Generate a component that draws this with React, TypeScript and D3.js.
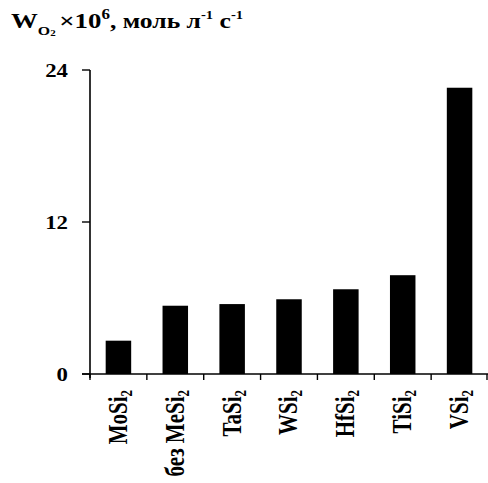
import React from "react";
import * as d3 from "d3";

const categories = ["MoSi", "без MeSi", "TaSi", "WSi", "HfSi", "TiSi", "VSi"];
const values = [2.63, 5.39, 5.52, 5.9, 6.69, 7.8, 22.6];
const yTicks = [0, 12, 24];

const W = 488;
const H = 483;
const FONT = "'Liberation Serif', 'Times New Roman', serif";

export default function App() {
  const left = 90;
  const right = 488;
  const y0 = 374;
  const yTop = 70;

  const y = d3.scaleLinear().domain([0, 24]).range([y0, yTop]);
  const xOuter = d3.scaleBand<string>().domain(categories).range([left, right]).padding(0);
  const step = xOuter.step();
  const barW = 25.5;

  const boundaries = d3.range(categories.length + 1).map((i) => left + i * step);

  return (
    <svg
      width={W}
      height={H}
      style={{ position: "absolute", left: 0, top: 0, background: "#fff" }}
      fontFamily={FONT}
      fontWeight="bold"
    >
      <rect x={0} y={0} width={W} height={H} fill="#fff" />
      {/* title */}
      <text transform="translate(11,28) scale(1.22,1)" x={0} y={0} fontSize={22} fill="#000">
        <tspan>W</tspan>
        <tspan fontSize={13} dy={7}>O</tspan>
        <tspan fontSize={9} dy={1}>2</tspan>
        <tspan fontSize={22} dy={-8} dx={3}>×10</tspan>
        <tspan fontSize={14} dy={-9}>6</tspan>
        <tspan fontSize={21} dy={9}>, моль л</tspan>
        <tspan fontSize={12} dy={-9}>-1</tspan>
        <tspan fontSize={21} dy={9}> с</tspan>
        <tspan fontSize={12} dy={-9}>-1</tspan>
      </text>

      {/* bars */}
      {categories.map((c, i) => {
        const cx = (xOuter(c) as number) + step / 2;
        return (
          <rect
            key={c}
            x={cx - barW / 2}
            y={y(values[i])}
            width={barW}
            height={y0 - y(values[i])}
            fill="#000"
          />
        );
      })}

      {/* y axis */}
      <line x1={left} x2={left} y1={yTop} y2={y0 + 4} stroke="#000" strokeWidth={1.6} />
      {yTicks.map((t) => (
        <g key={t}>
          <line x1={left - 8} x2={left} y1={y(t)} y2={y(t)} stroke="#000" strokeWidth={1.4} />
          <text
            transform={`translate(68,${y(t)}) scale(1.2,1)`}
            dy="0.36em"
            textAnchor="end"
            fontSize={19}
            fill="#000"
          >
            {t}
          </text>
        </g>
      ))}

      {/* x axis */}
      <line x1={left - 8} x2={right} y1={y0} y2={y0} stroke="#000" strokeWidth={1.4} />
      {boundaries.map((b, i) => (
        <line key={i} x1={Math.min(b, right - 1)} x2={Math.min(b, right - 1)} y1={y0} y2={y0 + 6} stroke="#000" strokeWidth={1.4} />
      ))}

      {/* x labels */}
      {categories.map((c) => {
        const cx = (xOuter(c) as number) + step / 2;
        return (
          <text
            key={c}
            transform={`translate(${cx},390) scale(1.25,1) rotate(-90)`}
            textAnchor="end"
            dy="0.32em"
            fontSize={21}
            fill="#000"
          >
            <tspan>{c}</tspan>
            <tspan fontSize={13} dy={4}>2</tspan>
          </text>
        );
      })}
    </svg>
  );
}
